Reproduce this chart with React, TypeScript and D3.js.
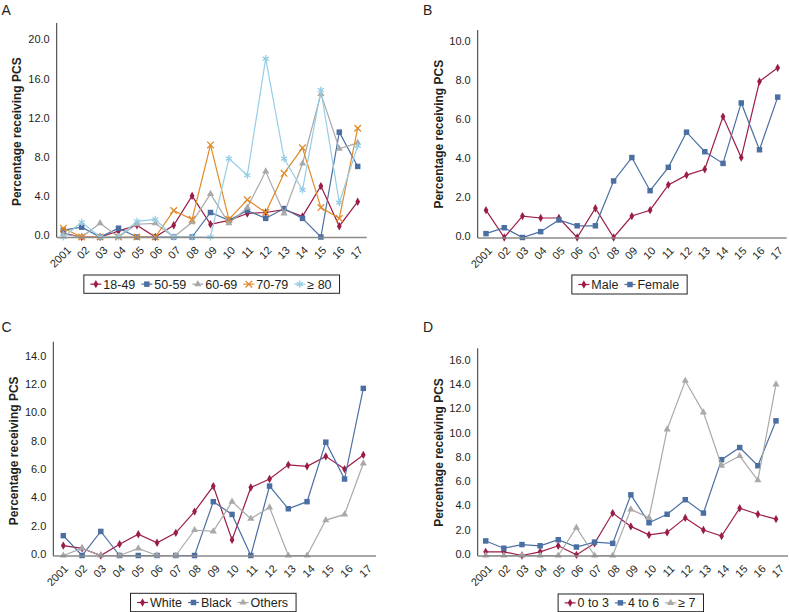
import { useEffect, useRef } from 'react';
import * as d3 from 'd3';

const years = ['2001', '02', '03', '04', '05', '06', '07', '08', '09', '10', '11', '12', '13', '14', '15', '16', '17'];

// A: age groups
const ageGroups = ['18-49', '50-59', '60-69', '70-79', '≥ 80'];
const age1849 = [0.4, 0, 0, 0.6, 1.2, 0, 1.2, 4.2, 1.3, 1.7, 2.4, 2.5, 2.8, 2.1, 5.2, 1.1, 3.6];
const age5059 = [0.7, 1.0, 0, 0.9, 0, 0, 0, 0, 2.5, 1.7, 2.7, 1.9, 2.9, 1.9, 0, 10.7, 7.2];
const age6069 = [0.3, 0, 1.4, 0, 1.3, 1.4, 0, 1.5, 4.4, 1.4, 3.0, 6.7, 2.4, 7.5, 14.6, 9.0, 9.6];
const age7079 = [0.9, 0, 0, 0, 0, 0, 2.7, 1.8, 9.4, 1.8, 3.8, 2.5, 6.5, 9.1, 3.0, 1.9, 11.1];
const age80 = [0, 1.5, 0, 0, 1.6, 1.8, 0, 0, 0, 8.0, 6.3, 18.2, 8.0, 4.8, 15.0, 3.5, 9.3];

// B: sex
const sexes = ['Male', 'Female'];
const male = [1.4, 0, 1.1, 1.0, 1.0, 0, 1.5, 0, 1.1, 1.4, 2.7, 3.2, 3.5, 6.2, 4.1, 8.0, 8.7];
const female = [0.2, 0.5, 0, 0.3, 0.9, 0.6, 0.6, 2.9, 4.1, 2.4, 3.6, 5.4, 4.4, 3.8, 6.9, 4.5, 7.2];

// C: race
const races = ['White', 'Black', 'Others'];
const white = [0.7, 0.5, 0, 0.8, 1.5, 0.9, 1.6, 3.1, 4.9, 1.1, 4.8, 5.4, 6.4, 6.3, 7.0, 6.1, 7.1];
const black = [1.4, 0, 1.7, 0, 0, 0, 0, 0, 3.8, 2.9, 0, 4.9, 3.3, 3.8, 8.0, 5.4, 11.8];
const others = [0, 0.5, 0, 0, 0.5, 0, 0, 1.8, 1.7, 3.8, 2.6, 3.4, 0, 0, 2.5, 2.9, 6.5];

// D: comorbidity score
const cciGroups = ['0 to 3', '4 to 6', '≥ 7'];
const cci03 = [0.3, 0.3, 0, 0.3, 0.8, 0.05, 1.0, 3.5, 2.4, 1.7, 1.9, 3.1, 2.1, 1.6, 3.9, 3.4, 3.0];
const cci46 = [1.2, 0.6, 0.9, 0.8, 1.3, 0.7, 1.1, 1.0, 5.0, 2.7, 3.4, 4.6, 3.5, 7.9, 8.9, 7.4, 11.1];
const cci7 = [0, 0, 0, 0, 0, 2.3, 0, 0, 3.8, 3.1, 10.4, 14.4, 11.8, 7.4, 8.2, 6.2, 14.1];

const CRIMSON = '#9b1c47';
const BLUE = '#4b6fa2';
const GRAY = '#a9a9a9';
const ORANGE = '#e08a2a';
const LIGHTBLUE = '#96cde6';

type MarkerKind = 'diamond' | 'square' | 'triangle' | 'x' | 'asterisk';

const markerStyle: Record<MarkerKind, { type: d3.SymbolType; size: number; stroke: boolean }> = {
  diamond: { type: d3.symbolDiamond, size: 20, stroke: false },
  square: { type: d3.symbolSquare, size: 30, stroke: false },
  triangle: { type: d3.symbolTriangle, size: 22, stroke: false },
  x: { type: d3.symbolX, size: 30, stroke: true },
  asterisk: { type: d3.symbolAsterisk, size: 36, stroke: true },
};

const panels = [
  {
    label: 'A', names: ageGroups, values: [age1849, age5059, age6069, age7079, age80],
    colors: [CRIMSON, BLUE, GRAY, ORANGE, LIGHTBLUE],
    markers: ['diamond', 'square', 'triangle', 'x', 'asterisk'] as MarkerKind[],
    yMax: 20, step: 4,
    box: { axisX: 56.7, xEnd: 366.7, firstX: 63.3, lastX: 357.7, y0: 237, yTop: 41, axisTop: 23 },
    labelPos: [1.5, 15], titlePos: [16.7, 131.7], legend: { cx: 211.7, y: 275, h: 18.3 },
  },
  {
    label: 'B', names: sexes, values: [male, female],
    colors: [CRIMSON, BLUE],
    markers: ['diamond', 'square'] as MarkerKind[],
    yMax: 10, step: 2,
    box: { axisX: 477.7, xEnd: 786.7, firstX: 486, lastX: 777.7, y0: 237.5, yTop: 42.5, axisTop: 30 },
    labelPos: [423, 15], titlePos: [438.3, 134.2], legend: { cx: 629.5, y: 275, h: 19 },
  },
  {
    label: 'C', names: races, values: [white, black, others],
    colors: [CRIMSON, BLUE, GRAY],
    markers: ['diamond', 'square', 'triangle'] as MarkerKind[],
    yMax: 14, step: 2,
    box: { axisX: 53.3, xEnd: 376, firstX: 63.3, lastX: 363.3, y0: 555.5, yTop: 357.2, axisTop: 341.7 },
    labelPos: [1.5, 331.7], titlePos: [13.3, 450.8], legend: { cx: 213.3, y: 593.3, h: 18.4 },
  },
  {
    label: 'D', names: cciGroups, values: [cci03, cci46, cci7],
    colors: [CRIMSON, BLUE, GRAY],
    markers: ['diamond', 'square', 'triangle'] as MarkerKind[],
    yMax: 16, step: 2,
    box: { axisX: 477.7, xEnd: 788, firstX: 485.7, lastX: 776, y0: 555.5, yTop: 361.4, axisTop: 348.3 },
    labelPos: [423, 331.7], titlePos: [438.3, 452.5], legend: { cx: 630.8, y: 594, h: 17.7 },
  },
];

const FONT = '"Liberation Sans", Arial, Helvetica, sans-serif';
const TEXT = '#231f20';

function drawMarker(g: d3.Selection<SVGGElement, unknown, null, undefined>, kind: MarkerKind, color: string, x: number, y: number) {
  const m = markerStyle[kind];
  g.append('path')
    .attr('transform', `translate(${x},${y})`)
    .attr('d', d3.symbol(m.type, m.size)()!)
    .attr('fill', m.stroke ? 'none' : color)
    .attr('stroke', m.stroke ? color : 'none')
    .attr('stroke-width', m.stroke ? 1.3 : 0);
}

export default function App() {
  const svgRef = useRef<SVGSVGElement>(null);

  useEffect(() => {
    if (!svgRef.current) return;
    const svg = d3.select(svgRef.current);
    svg.selectAll('*').remove();

    panels.forEach(p => {
      const b = p.box;
      const g = svg.append('g') as d3.Selection<SVGGElement, unknown, null, undefined>;

      const x = d3.scalePoint<string>().domain(years).range([b.firstX, b.lastX]);
      const xLabel = d3.scaleBand<string>().domain(years).range([b.axisX, b.xEnd]);
      const y = d3.scaleLinear().domain([0, p.yMax]).range([b.y0, b.yTop]);

      // panel letter
      g.append('text')
        .attr('x', p.labelPos[0])
        .attr('y', p.labelPos[1])
        .attr('font-family', FONT)
        .attr('font-size', 14)
        .attr('fill', TEXT)
        .text(p.label);

      // y title
      g.append('text')
        .attr('transform', `translate(${p.titlePos[0]},${p.titlePos[1]}) rotate(-90)`)
        .attr('text-anchor', 'middle')
        .attr('dy', '0.35em')
        .attr('font-family', FONT)
        .attr('font-size', 12)
        .attr('font-weight', 'bold')
        .attr('fill', TEXT)
        .text('Percentage receiving PCS');

      // y ticks
      const ticks = d3.range(0, p.yMax + 0.001, p.step);
      g.selectAll('.ytick')
        .data(ticks)
        .join('text')
        .attr('x', b.axisX - 7)
        .attr('y', d => y(d) - 1.5)
        .attr('dy', '0.35em')
        .attr('text-anchor', 'end')
        .attr('font-family', FONT)
        .attr('font-size', 11)
        .attr('fill', TEXT)
        .text(d => d.toFixed(1));

      // x tick labels
      g.selectAll('.xtick')
        .data(years)
        .join('text')
        .attr('transform', d => `translate(${xLabel(d)! + xLabel.bandwidth() / 2 + 6},${b.y0 + 14}) rotate(-45)`)
        .attr('text-anchor', 'end')
        .attr('font-family', FONT)
        .attr('font-size', 11)
        .attr('fill', TEXT)
        .text(d => d);

      // axes
      g.append('line')
        .attr('x1', b.axisX).attr('x2', b.axisX)
        .attr('y1', b.axisTop).attr('y2', b.y0 + 0.5)
        .attr('stroke', '#333').attr('stroke-width', 1);

      // series
      p.values.forEach((vals, si) => {
        const color = p.colors[si];
        const line = d3.line<number>()
          .x((_, i) => x(years[i])!)
          .y(d => y(d));
        g.append('path')
          .attr('d', line(vals)!)
          .attr('fill', 'none')
          .attr('stroke', color)
          .attr('stroke-width', 1.2);
        vals.forEach((v, i) => drawMarker(g, p.markers[si], color, x(years[i])!, y(v)));
      });

      g.append('line')
        .attr('x1', b.axisX).attr('x2', b.xEnd)
        .attr('y1', b.y0 + 0.5).attr('y2', b.y0 + 0.5)
        .attr('stroke', '#8a8a8a').attr('stroke-width', 1.5);

      // legend
      const lg = g.append('g');
      const items: { x: number; w: number }[] = [];
      let cursor = 6.5;
      p.names.forEach((name, si) => {
        const color = p.colors[si];
        lg.append('line')
          .attr('x1', cursor).attr('x2', cursor + 11)
          .attr('y1', 0).attr('y2', 0)
          .attr('stroke', color).attr('stroke-width', 1.2);
        drawMarker(lg, p.markers[si], color, cursor + 5.5, 0);
        const t = lg.append('text')
          .attr('x', cursor + 13)
          .attr('y', 0)
          .attr('dy', '0.36em')
          .attr('font-family', FONT)
          .attr('font-size', 12.5)
          .attr('fill', TEXT)
          .text(name);
        const w = (t.node() as SVGTextElement).getComputedTextLength();
        items.push({ x: cursor, w });
        cursor += 13 + w + 6;
      });
      const totalW = cursor + 2;
      lg.insert('rect', ':first-child')
        .attr('x', 0).attr('y', -p.legend.h / 2)
        .attr('width', totalW).attr('height', p.legend.h)
        .attr('fill', '#fff').attr('stroke', '#222').attr('stroke-width', 1);
      lg.attr('transform', `translate(${p.legend.cx - totalW / 2},${p.legend.y + p.legend.h / 2})`);
    });
  }, []);

  return (
    <svg
      ref={svgRef}
      width={789}
      height={612}
      style={{ position: 'absolute', left: 0, top: 0, background: '#fff' }}
    />
  );
}
